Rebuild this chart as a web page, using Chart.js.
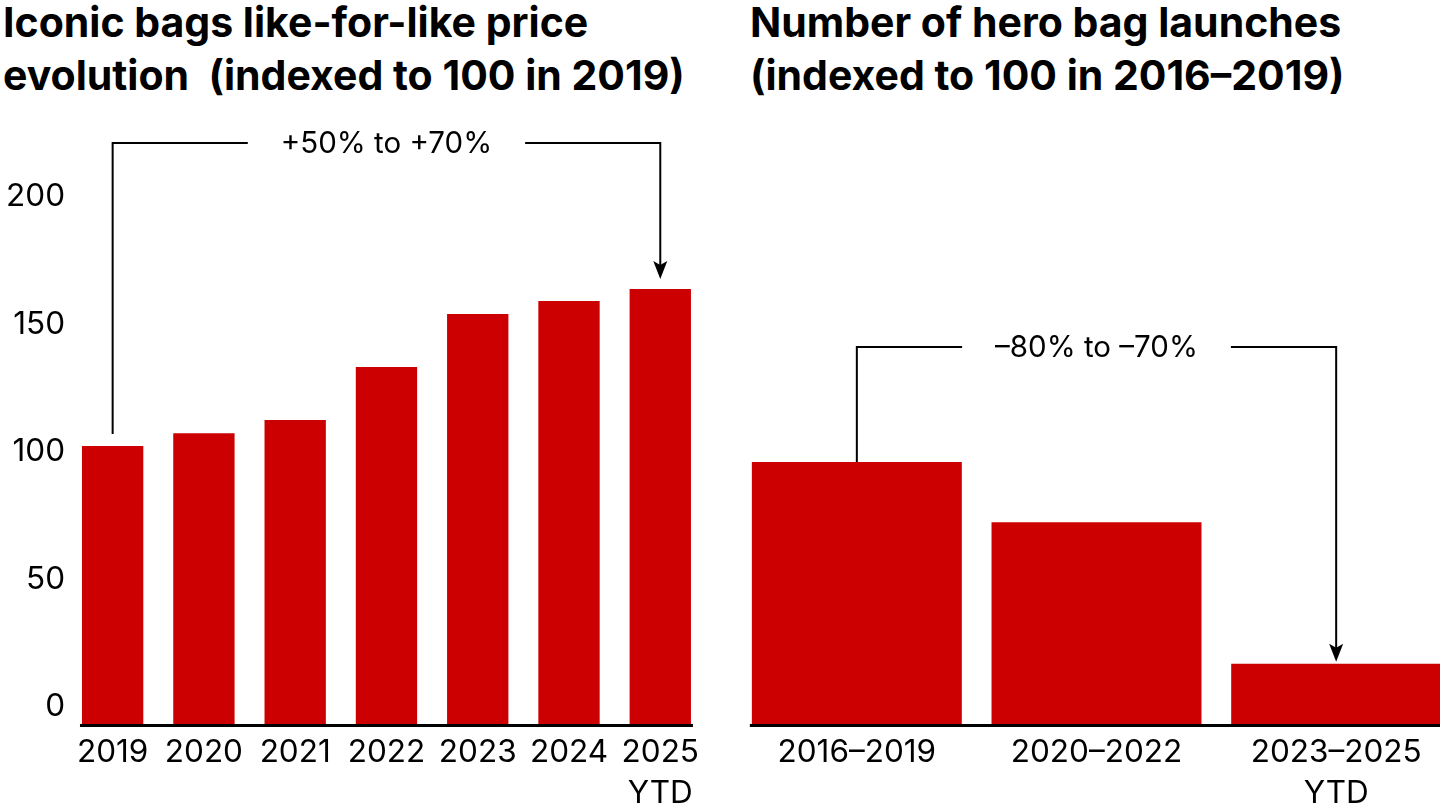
<!DOCTYPE html>
<html>
<head>
<meta charset="utf-8">
<script src="https://cdn.jsdelivr.net/npm/chart.js@4.4.1/dist/chart.umd.min.js"></script>
<style>
  html, body { margin: 0; padding: 0; background: #fff; }
  body { position: relative; width: 1440px; height: 810px; overflow: hidden; font-family: Inter, sans-serif; }
  .title { position: absolute; top: -4px; font-weight: 700; font-size: 41px; line-height: 53px; color: #000; white-space: pre; letter-spacing: 0; }
  #title-left { left: 3px; }
  #title-right { left: 750px; }
  #wrap-left { position: absolute; left: 0; top: 100px; width: 707px; height: 710px; }
  #wrap-right { position: absolute; left: 737px; top: 100px; width: 719px; height: 710px; }
</style>
</head>
<body>
<div class="title" id="title-left">Iconic bags like-for-like price
evolution  (indexed to 100 in 2019)</div>
<div class="title" id="title-right">Number of hero bag launches
(indexed to 100 in 2016–2019)</div>
<div id="wrap-left"><canvas id="chart-left" width="707" height="710"></canvas></div>
<div id="wrap-right"><canvas id="chart-right" width="719" height="710"></canvas></div>
<script>
// data
const priceYears = ['2019', '2020', '2021', '2022', '2023', '2024', ['2025', 'YTD']];
const priceIndex = [109, 114, 119.2, 140, 160.8, 165.9, 170.6];
const priceTicks = [0, 50, 100, 150, 200];
const priceNote = '+50% to +70%';

const launchPeriods = ['2016–2019', '2020–2022', ['2023–2025', 'YTD']];
const launchIndex = [100, 77, 23];
const launchNote = '–80% to –70%';

const RED = '#cc0000';
const labelFont = { family: 'Inter, sans-serif', size: 31.5, lineHeight: 1.3 };

// baseline under the bars plus the bracket arrow from first to last bar
const bracketPlugin = {
  id: 'bracket',
  afterDatasetsDraw(chart, args, opts) {
    const ctx = chart.ctx;
    const bars = chart.getDatasetMeta(0).data;
    const first = bars[0];
    const last = bars[bars.length - 1];
    const y0 = chart.scales.y.getPixelForValue(0);

    ctx.save();
    // axis line
    ctx.strokeStyle = '#000';
    ctx.lineWidth = 3;
    ctx.beginPath();
    ctx.moveTo(first.x - first.width / 2 - 2, y0 + 1.5);
    ctx.lineTo(last.x + last.width / 2 + 2, y0 + 1.5);
    ctx.stroke();

    // bracket
    const top = opts.top;
    const mid = (first.x + last.x) / 2;
    ctx.font = '29.5px Inter, sans-serif';
    const tw = ctx.measureText(opts.text).width;
    const gap = 33;
    const tipY = last.y - opts.endGap;
    ctx.lineWidth = 2;
    ctx.beginPath();
    ctx.moveTo(first.x, first.y - opts.startGap);
    ctx.lineTo(first.x, top);
    ctx.lineTo(mid - tw / 2 - gap, top);
    ctx.moveTo(mid + tw / 2 + gap, top);
    ctx.lineTo(last.x, top);
    ctx.lineTo(last.x, tipY - 10);
    ctx.stroke();

    // arrow head
    ctx.fillStyle = '#000';
    ctx.beginPath();
    ctx.moveTo(last.x, tipY);
    ctx.lineTo(last.x - 7, tipY - 18);
    ctx.lineTo(last.x, tipY - 14);
    ctx.lineTo(last.x + 7, tipY - 18);
    ctx.closePath();
    ctx.fill();

    ctx.textAlign = 'center';
    ctx.textBaseline = 'middle';
    ctx.fillText(opts.text, mid, top + 1);
    ctx.restore();
  }
};

function xAxis() {
  return {
    grid: { display: false, drawTicks: false },
    border: { display: false },
    ticks: { color: '#000', font: labelFont, padding: 8, maxRotation: 0, autoSkip: false },
    afterFit: s => { s.height = 86; }
  };
}

new Chart(document.getElementById('chart-left'), {
  type: 'bar',
  data: {
    labels: priceYears,
    datasets: [{ data: priceIndex, backgroundColor: RED, barPercentage: 0.672, categoryPercentage: 1 }]
  },
  options: {
    responsive: false,
    animation: false,
    layout: { padding: { top: 63, left: 0, right: 0, bottom: 0 } },
    scales: {
      x: xAxis(),
      y: {
        min: 0,
        max: 220,
        grid: { display: false, drawTicks: false },
        border: { display: false },
        afterBuildTicks: s => { s.ticks = priceTicks.map(v => ({ value: v })); },
        ticks: { color: '#000', font: { family: 'Inter, sans-serif', size: 31.5 }, padding: 2, labelOffset: -17 },
        afterFit: s => { s.width = 67; }
      }
    },
    plugins: {
      legend: { display: false },
      tooltip: { enabled: false },
      bracket: { text: priceNote, top: 43, startGap: 12, endGap: 10 }
    }
  },
  plugins: [bracketPlugin]
});

new Chart(document.getElementById('chart-right'), {
  type: 'bar',
  data: {
    labels: launchPeriods,
    datasets: [{ data: launchIndex, backgroundColor: RED, barPercentage: 0.876, categoryPercentage: 1 }]
  },
  options: {
    responsive: false,
    animation: false,
    layout: { padding: { top: 100, left: 0, right: 0, bottom: 0 } },
    scales: {
      x: xAxis(),
      y: { display: false, min: 0, max: 200 }
    },
    plugins: {
      legend: { display: false },
      tooltip: { enabled: false },
      bracket: { text: launchNote, top: 247, startGap: 0, endGap: 2 }
    }
  },
  plugins: [bracketPlugin]
});
</script>
</body>
</html>
